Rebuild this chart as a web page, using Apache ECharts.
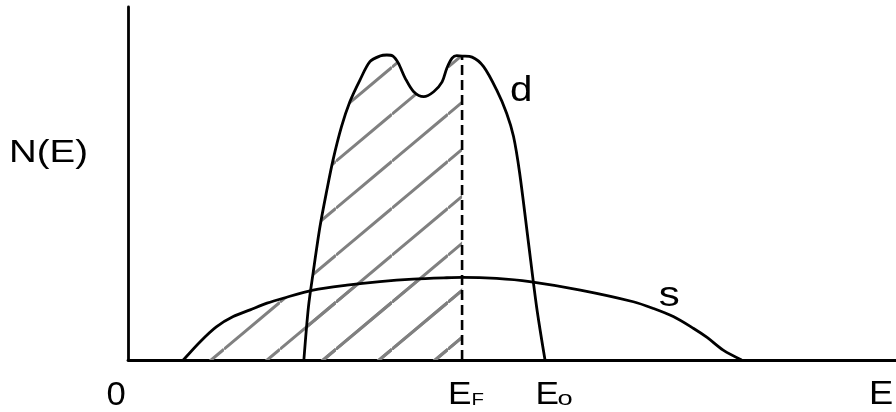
<!DOCTYPE html>
<html>
<head>
<meta charset="utf-8">
<script src="https://cdn.jsdelivr.net/npm/echarts@6/dist/echarts.min.js"></script>
<style>html,body{margin:0;padding:0;background:#fff;}</style>
</head>
<body>
<div id="main" style="width:896px;height:412px"></div>
<script type="text/javascript">
    var myChart = echarts.init(document.getElementById('main'));

    // reference energies on the E axis
    var eFermi = 4.35,
        eTop = 5.43;

    // d band, N(E) against E
    var dE = [2.29, 2.35, 2.41, 2.50, 2.59, 2.67, 2.78, 2.89, 3.02, 3.15, 3.28, 3.37, 3.45, 3.52, 3.61, 3.72,
        3.85, 3.98, 4.09, 4.15, 4.22, 4.28, 4.35, 4.48, 4.63, 4.80, 4.93, 5.02, 5.10, 5.21, 5.32, 5.43];
    var dN = [0, 1.51, 2.46, 3.78, 4.82, 5.67, 6.61, 7.32, 7.93, 8.45, 8.61, 8.64, 8.61, 8.41, 7.98, 7.60,
        7.46, 7.60, 7.88, 8.26, 8.55, 8.62, 8.61, 8.58, 8.31, 7.65, 6.99, 6.33, 5.29, 3.40, 1.51, 0];

    // s band
    var sE = [0.72, 0.94, 1.15, 1.37, 1.59, 1.81, 2.02, 2.41, 2.85, 3.28, 3.71, 4.15, 4.35, 4.80, 5.23,
        5.89, 6.58, 6.84, 7.10, 7.36, 7.54, 7.75, 7.99];
    var sN = [0, 0.52, 0.94, 1.23, 1.42, 1.61, 1.75, 1.98, 2.12, 2.22, 2.29, 2.33, 2.34, 2.31, 2.22,
        1.98, 1.65, 1.46, 1.23, 0.90, 0.64, 0.28, 0];

    function pairs(xs, ys, lim) {
        var out = [];
        for (var i = 0; i < xs.length; i++) {
            if (lim === undefined || xs[i] <= lim + 1e-9) out.push([xs[i], ys[i]]);
        }
        return out;
    }

    // diagonal hatch tile for the filled states below E_F
    function hatchTile() {
        var w = 56, h = 47, c = 0.43;
        var cv = document.createElement('canvas');
        cv.width = w;
        cv.height = h;
        var ctx = cv.getContext('2d');
        ctx.strokeStyle = '#808080';
        ctx.lineWidth = 3;
        for (var k = -1; k <= 2; k++) {
            ctx.beginPath();
            ctx.moveTo(0, h * (k + c));
            ctx.lineTo(w, h * (k + c - 1));
            ctx.stroke();
        }
        return cv;
    }
    var hatch = { image: hatchTile(), repeat: 'repeat' };

    var dAtFermi = dN[dE.indexOf(eFermi)];

    var option = {
        animation: false,
        grid: { left: 128, right: 0, top: 7, bottom: 52 },
        xAxis: {
            type: 'value', min: 0, max: 10,
            axisLine: { lineStyle: { color: '#000', width: 2.8 } },
            axisTick: { show: false },
            axisLabel: { show: false },
            splitLine: { show: false }
        },
        yAxis: {
            type: 'value', min: 0, max: 10,
            axisLine: { show: true, lineStyle: { color: '#000', width: 2.8 } },
            axisTick: { show: false },
            axisLabel: { show: false },
            splitLine: { show: false }
        },
        series: [{
            type: 'line', z: 1, smooth: 0.3, symbol: 'none',
            data: pairs(sE, sN, eFermi),
            lineStyle: { width: 0 },
            areaStyle: { color: hatch, opacity: 1 }
        }, {
            type: 'line', z: 1, smooth: 0.3, symbol: 'none',
            data: pairs(dE, dN, eFermi),
            lineStyle: { width: 0 },
            areaStyle: { color: hatch, opacity: 1 }
        }, {
            name: 's', type: 'line', z: 3, smooth: 0.3, symbol: 'none',
            data: pairs(sE, sN),
            lineStyle: { color: '#000', width: 2.8 }
        }, {
            name: 'd', type: 'line', z: 3, smooth: 0.3, symbol: 'none',
            data: pairs(dE, dN),
            lineStyle: { color: '#000', width: 2.8 }
        }, {
            type: 'line', z: 4, symbol: 'none',
            data: [[eFermi, 0], [eFermi, dAtFermi]],
            lineStyle: { color: '#000', width: 2.6, type: [10, 5] }
        }]
    };
    myChart.setOption(option);

    // labels, placed from the axis scales
    function px(v) { return myChart.convertToPixel({ xAxisIndex: 0 }, v); }
    var font = '"Liberation Sans", Arial, sans-serif';
    function label(text, x, baseline, size, sx) {
        return {
            type: 'text', x: x, y: baseline - 0.3465 * size, scaleX: sx,
            style: { text: text, font: size + 'px ' + font, fill: '#000', align: 'left', verticalAlign: 'middle' }
        };
    }
    myChart.setOption({
        graphic: [
            label('N(E)', 9, 164, 32, 1.2),
            label('0', px(0) - 21.5, 407, 33, 1.05),
            label('E', px(eFermi) - 14, 406, 32, 1.1),
            label('F', px(eFermi) + 9.5, 406, 17, 1.2),
            label('E', px(eTop) - 9.5, 406, 32, 1.1),
            label('o', px(eTop) + 12.5, 406, 21, 1.3),
            label('E', 869, 406, 33, 1.1),
            label('d', 510, 103, 35, 1.15),
            label('s', 658.7, 308, 35, 1.2)
        ]
    });
</script>
</body>
</html>
